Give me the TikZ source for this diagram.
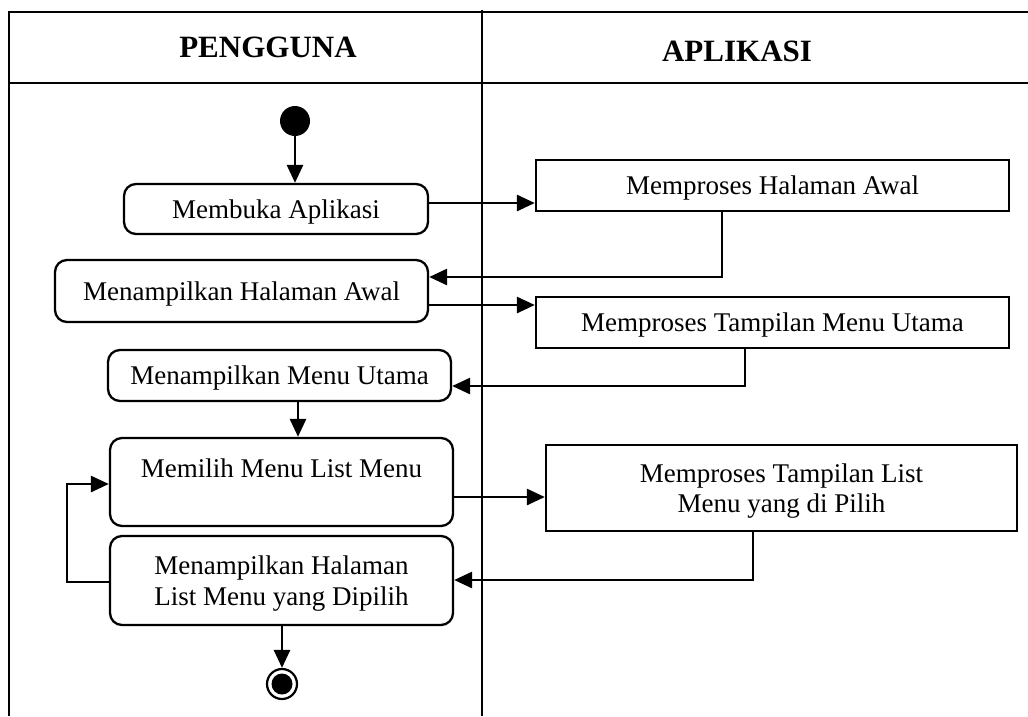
\documentclass[tikz,border=0pt]{standalone}
\usepackage{fontspec}
\setmainfont{Liberation Serif}
\usetikzlibrary{arrows.meta}

\begin{document}
\begin{tikzpicture}[x=1pt,y=-1pt,
  every node/.style={font=\fontsize{27}{30.5}\selectfont, text depth=0pt},
  lanetitle/.style={font=\bfseries\fontsize{31}{36}\selectfont, anchor=base, inner sep=0},
  frameline/.style={line width=2.2pt},
  act/.style={draw, rounded corners=12pt, line width=2.3pt, inner sep=0, align=center},
  proc/.style={draw, line width=2.3pt, inner sep=0, align=center},
  flow/.style={line width=2.8pt, -{Triangle[length=18pt,width=16pt]}},
]
\useasboundingbox (0,0) rectangle (1028,716);

% swimlane frame
\draw[frameline] (1028,12) -- (9,12) -- (9,716);
\draw[frameline] (9,83) -- (1028,83);
\draw[frameline] (482,10) -- (482,716);
\node[lanetitle] (tuser) at (268,57) {PENGGUNA};
\node[lanetitle] (tapp) at (737,61) {APLIKASI};

% user lane
\node (start) [circle, fill=black, minimum size=30pt, inner sep=0] at (295,121) {};
\node (membuka) [act, minimum width=304pt, minimum height=50pt] at (276,209) {Membuka Aplikasi};
\node (mha) [act, minimum width=373pt, minimum height=62pt] at (241.5,291) {Menampilkan Halaman Awal};
\node (mmu) [act, minimum width=343pt, minimum height=51pt] at (279.5,375.5) {Menampilkan Menu Utama};
\node (memilih) [act, minimum width=343pt, minimum height=88pt,
  label={[yshift=14pt, inner sep=0]center:Memilih Menu List Menu}] at (281.5,482) {};
\node (mhl) [act, minimum width=343pt, minimum height=89pt] at (281.5,580.5)
  {Menampilkan Halaman\\List Menu yang Dipilih};
\node (end) [circle, draw, line width=2.2pt, fill=white, minimum size=30pt, inner sep=0] at (282,684) {};
\fill (end.center) circle (10.5);

% application lane
\node (pha) [proc, minimum width=473pt, minimum height=51pt] at (772.5,185.5) {Memproses Halaman Awal};
\node (ptmu) [proc, minimum width=473pt, minimum height=51pt] at (772.5,322.5) {Memproses Tampilan Menu Utama};
\node (ptl) [proc, minimum width=471pt, minimum height=86pt] at (781.5,488)
  {Memproses Tampilan List\\Menu yang di Pilih};

% control flow
\draw[flow] (start) -- (start |- membuka.north);
\draw[flow] (membuka.east |- 0,203) -- (pha.west |- 0,203);
\draw[flow] (pha.south -| 722,0) -- (722,277) -- (mha.east |- 0,277);
\draw[flow] (mha.east |- 0,305) -- (ptmu.west |- 0,305);
\draw[flow] (ptmu.south -| 745,0) -- (745,386) -- (mmu.east |- 0,386);
\draw[flow] (mmu.south -| 298,0) -- (memilih.north -| 298,0);
\draw[flow] (memilih.east |- 0,497) -- (ptl.west |- 0,497);
\draw[flow] (ptl.south -| 753,0) -- (753,580) -- (mhl.east |- 0,580);
\draw[flow] (mhl.west |- 0,582) -- (67,582) -- (67,484) -- (memilih.west |- 0,484);
\draw[flow] (mhl.south -| 282,0) -- (end.north);
\end{tikzpicture}
\end{document}
